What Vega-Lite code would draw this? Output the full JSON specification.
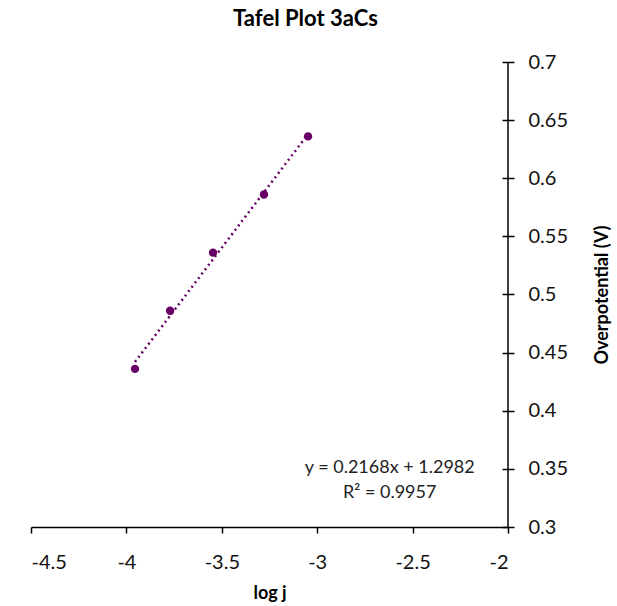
{
  "$schema": "https://vega.github.io/schema/vega-lite/v6.json",
  "width": 477,
  "height": 465,
  "autosize": {"type": "none"},
  "padding": {"left": 31, "top": 62, "right": 109, "bottom": 79},
  "background": "white",
  "title": {
    "text": "Tafel Plot 3aCs",
    "font": "Lato",
    "fontSize": 22,
    "fontWeight": "bold",
    "color": "black",
    "anchor": "middle",
    "frame": "group",
    "dx": 36,
    "offset": 21
  },
  "data": {
    "values": [
      {"logj": -3.955, "eta": 0.436},
      {"logj": -3.771, "eta": 0.486},
      {"logj": -3.546, "eta": 0.536},
      {"logj": -3.279, "eta": 0.586},
      {"logj": -3.048, "eta": 0.636}
    ]
  },
  "layer": [
    {
      "data": {"values": [{"axis": "y"}]},
      "mark": {"type": "rule", "color": "black", "strokeWidth": 1.5},
      "encoding": {
        "x": {"datum": -2, "type": "quantitative"}
      }
    },
    {
      "mark": {"type": "line", "color": "#660066", "strokeWidth": 2.5, "strokeDash": [2, 3.5]},
      "transform": [{"regression": "eta", "on": "logj"}],
      "encoding": {
        "x": {"field": "logj", "type": "quantitative"},
        "y": {"field": "eta", "type": "quantitative"}
      }
    },
    {
      "mark": {"type": "point", "filled": true, "size": 70, "color": "#660066", "opacity": 1},
      "encoding": {
        "x": {
          "field": "logj", "type": "quantitative",
          "scale": {"domain": [-4.5, -2], "nice": false, "zero": false},
          "axis": {"title": "log j", "values": [-4.5, -4, -3.5, -3, -2.5, -2], "labelExpr": "'' + datum.value", "tickSize": 6, "labelPadding": 19, "titlePadding": 12}
        },
        "y": {
          "field": "eta", "type": "quantitative",
          "scale": {"domain": [0.3, 0.7], "nice": false, "zero": false},
          "axis": {"orient": "right", "offset": -6, "domain": false, "title": "Overpotential (V)", "values": [0.3, 0.35, 0.4, 0.45, 0.5, 0.55, 0.6, 0.65, 0.7], "labelExpr": "'' + datum.value", "tickSize": 12, "labelPadding": 14, "titleAngle": 270, "titlePadding": 44}
        }
      }
    },
    {
      "data": {"values": [{"label": "trendline"}]},
      "mark": {"type": "text", "text": ["y = 0.2168x + 1.2982", "R² = 0.9957"], "font": "Lato", "fontSize": 18, "fontWeight": "normal", "color": "#222222", "align": "center", "baseline": "middle", "lineHeight": 25},
      "encoding": {
        "x": {"datum": -2.62, "type": "quantitative"},
        "y": {"datum": 0.3505, "type": "quantitative"}
      }
    }
  ],
  "config": {
    "view": {"stroke": null},
    "axis": {
      "grid": false,
      "domainColor": "black",
      "domainWidth": 1.5,
      "tickColor": "black",
      "tickWidth": 1.5,
      "labelFont": "Lato",
      "labelFontSize": 20,
      "labelColor": "#111111",
      "titleFont": "Lato",
      "titleFontSize": 18,
      "titleFontWeight": "bold",
      "titleColor": "black"
    }
  }
}
